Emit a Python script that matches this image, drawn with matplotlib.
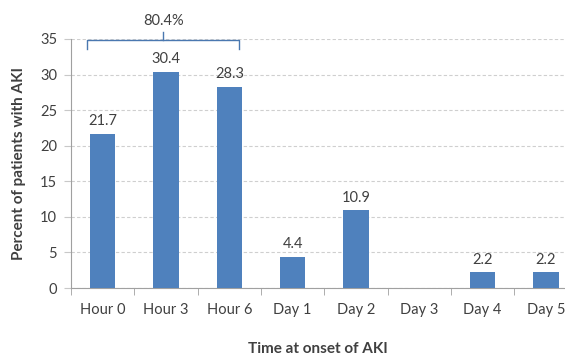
import matplotlib
matplotlib.use("Agg")
import matplotlib.pyplot as plt
import numpy as np

# onset time categories and share of patients (%)
categories = ["Hour 0", "Hour 3", "Hour 6", "Day 1", "Day 2", "Day 3", "Day 4", "Day 5"]
percent = [21.7, 30.4, 28.3, 4.4, 10.9, 0.0, 2.2, 2.2]
bracket_label = "80.4%"

plt.rcParams['font.family'] = ['Lato', 'DejaVu Sans']
txt = '#404040'
bar_col = '#4F81BD'

fig = plt.figure(figsize=(5.65, 3.57), dpi=100)
ax = fig.add_axes([71/565, 1 - 288/357, (565 - 71)/565, (288 - 39)/357])

x = np.arange(len(categories))
ax.bar(x, percent, width=0.4, color=bar_col, zorder=3)

# value labels above bars (skip empty day)
for xi, v in zip(x, percent):
    if v > 0:
        ax.text(xi, v + 0.8, f"{v}", ha='center', va='bottom', fontsize=10.5, color=txt)

ax.set_xlim(-0.5, 7.3)
ax.set_ylim(0, 35)
ax.set_yticks(range(0, 36, 5))
ax.yaxis.grid(True, linestyle=(0, (3, 2)), color='#cfcfcf', linewidth=0.8, zorder=0)

ax.set_xticks(x)
ax.set_xticklabels(categories)
ax.set_xticks(np.arange(-0.5, 7.5, 1), minor=True)
ax.tick_params(axis='x', which='major', length=0, pad=11, labelsize=10.5, colors=txt)
ax.tick_params(axis='x', which='minor', length=5, color='#a0a0a0', direction='out')
ax.tick_params(axis='y', length=5, color='#c8c8c8', labelsize=10.5, colors=txt, pad=5)
ax.tick_params(axis='y', color='#c8c8c8')

for s in ['top', 'right']:
    ax.spines[s].set_visible(False)
ax.spines['left'].set_color('#a0a0a0')
ax.spines['bottom'].set_color('#a0a0a0')

ax.set_ylabel("Percent of patients with AKI", fontsize=11, fontweight='bold', color=txt, labelpad=10)
ax.set_xlabel("Time at onset of AKI", fontsize=11, fontweight='bold', color=txt, labelpad=18)

# bracket over the first three bars
bx0, bx1, bmid = -0.24, 2.15, 0.96
by, bleg, btop = 34.8, 33.6, 36.0
bc = '#4a78b0'
ax.plot([bx0, bx0, bx1, bx1], [bleg, by, by, bleg], color=bc, lw=1.0, clip_on=False, zorder=4)
ax.plot([bmid, bmid], [by, btop], color=bc, lw=1.0, clip_on=False, zorder=4)
ax.text(bmid, 36.5, bracket_label, ha='center', va='bottom', fontsize=10.5, color=txt, clip_on=False)

fig.savefig("out.png", dpi=100)
